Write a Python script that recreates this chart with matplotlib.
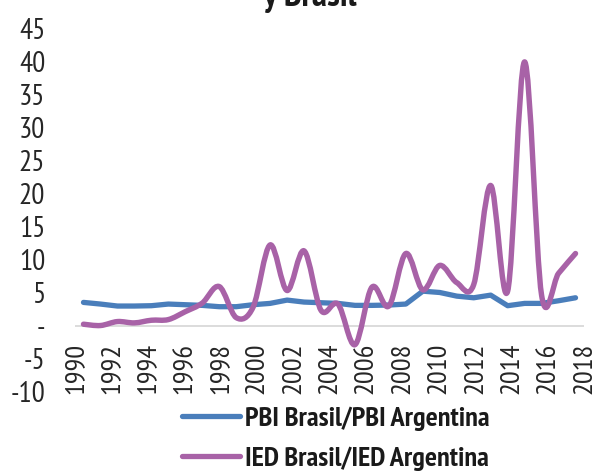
import numpy as np
import matplotlib
matplotlib.use("Agg")
import matplotlib.pyplot as plt
from matplotlib.path import Path
from matplotlib.patches import PathPatch
from matplotlib.lines import Line2D
from matplotlib.ticker import FuncFormatter
from matplotlib import font_manager

# ---- data (30 yearly points) ----
pbi_ratio = [3.5, 3.25, 2.95, 2.95, 3.0, 3.25, 3.15, 3.05, 2.85, 2.85,
             3.15, 3.35, 3.85, 3.55, 3.45, 3.35, 3.05, 3.05, 3.1, 3.25,
             5.2, 5.0, 4.45, 4.2, 4.6, 3.0, 3.35, 3.35, 3.75, 4.2]
ied_ratio = [0.2, 0.0, 0.6, 0.4, 0.8, 0.9, 2.1, 3.4, 5.9, 1.2,
             2.8, 12.2, 5.3, 11.3, 2.3, 3.25, -2.9, 5.8, 2.95, 10.9,
             5.4, 9.1, 6.5, 6.2, 21.2, 5.2, 39.9, 4.6, 7.9, 10.9]
tick_years = ["1990", "1992", "1994", "1996", "1998", "2000", "2002", "2004",
              "2006", "2008", "2010", "2012", "2014", "2016", "2018"]
y_ticks = [-10, -5, 0, 5, 10, 15, 20, 25, 30, 35, 40, 45]
label_pbi = "PBI Brasil/PBI Argentina"
label_ied = "IED Brasil/IED Argentina"
title_tail = "y Brasil"

BLUE = "#4a7ebb"
PURPLE = "#a862a7"

# condensed humanist sans, closest thing to the original Myriad Condensed
installed = {f.name for f in font_manager.fontManager.ttflist}
prefs = ["PT Sans Narrow", "Open Sans Condensed", "Fira Sans Condensed",
         "Roboto Condensed", "Asap Condensed", "Archivo Narrow", "Barlow Condensed"]
FONT = next((f for f in prefs if f in installed), "DejaVu Sans")
plt.rcParams["font.family"] = [FONT, "DejaVu Sans"]


def smooth_path(xs, ys):
    # excel-like smoothed line: bezier segments with catmull-rom tangents
    pts = np.column_stack([xs, ys]).astype(float)
    n = len(pts)
    verts = [pts[0]]
    codes = [Path.MOVETO]
    for i in range(n - 1):
        p_prev = pts[max(i - 1, 0)]
        p0, p1 = pts[i], pts[i + 1]
        p_next = pts[min(i + 2, n - 1)]
        c1 = p0 + (p1 - p_prev) / 6.0
        c2 = p1 - (p_next - p0) / 6.0
        verts += [c1, c2, p1]
        codes += [Path.CURVE4] * 3
    return Path(verts, codes)


fig = plt.figure(figsize=(6.07, 4.72), dpi=100)
ax = fig.add_axes([75 / 607, 1 - 391.6 / 472, 509 / 607, 363.4 / 472])

x = np.arange(len(pbi_ratio))
ax.axhline(0, color="#d9d9d9", lw=1.3, zorder=1)
ax.plot(x, pbi_ratio, color=BLUE, lw=3.8, solid_capstyle="round",
        solid_joinstyle="round", zorder=3)
ax.add_patch(PathPatch(smooth_path(x, ied_ratio), fill=False, edgecolor=PURPLE,
                       lw=3.9, capstyle="round", joinstyle="round", zorder=4))

ax.set_xlim(-0.5, len(pbi_ratio) - 0.5)
ax.set_ylim(-10, 45)
ax.set_yticks(y_ticks)
ax.yaxis.set_major_formatter(FuncFormatter(lambda v, p: "-" if v == 0 else f"{v:g}"))
ax.set_xticks(np.linspace(-0.5, len(pbi_ratio) - 0.5, len(tick_years)))
ax.set_xticklabels(tick_years, rotation=90)
ax.tick_params(axis="y", length=0, pad=21.5, labelsize=21, labelcolor="#262626")
ax.tick_params(axis="x", length=0, pad=-35, labelsize=20.5, labelcolor="#262626")
for s in ax.spines.values():
    s.set_visible(False)

fig.text(309.5 / 607, 1 - 6 / 472, title_tail, ha="center", va="baseline",
         fontsize=26, fontweight="bold", color="#1a1a1a")

handles = [Line2D([], [], color=BLUE, lw=3.8, solid_capstyle="round"),
           Line2D([], [], color=PURPLE, lw=3.8, solid_capstyle="round")]
leg = fig.legend(handles, [label_pbi, label_ied], loc="upper left",
                 bbox_to_anchor=(182 / 607, 1 - 406 / 472), frameon=False,
                 borderaxespad=0, borderpad=0, handlelength=2.05,
                 handletextpad=0.2, labelspacing=0.56,
                 prop={"family": FONT, "weight": "bold", "size": 20.3})
for t in leg.get_texts():
    t.set_color("#1a1a1a")

fig.savefig("out.png", dpi=100)
